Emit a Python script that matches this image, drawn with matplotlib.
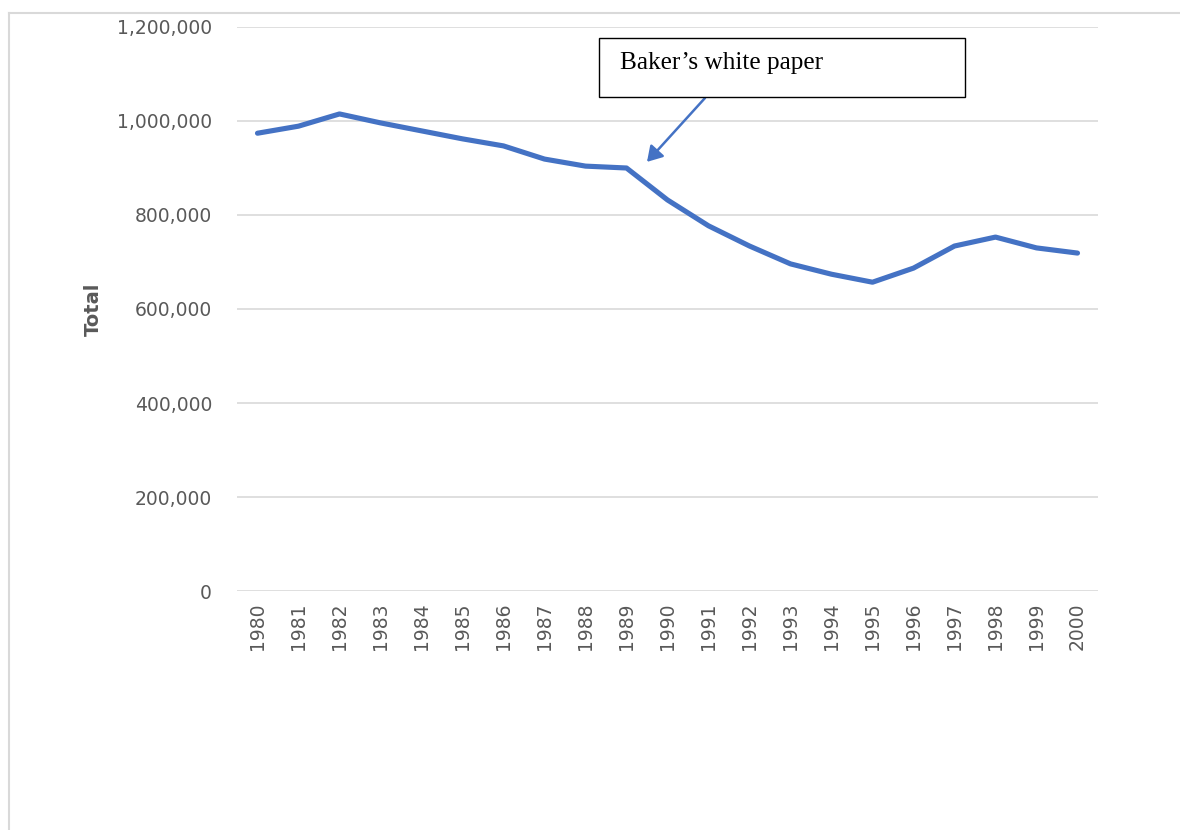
import matplotlib
matplotlib.use("Agg")
import matplotlib.pyplot as plt
from matplotlib.lines import Line2D
from matplotlib.ticker import FuncFormatter, MultipleLocator

# Annual totals, 1980-2000
years = [str(y) for y in range(1980, 2001)]
totals = [974000, 989000, 1015000, 996000, 979000, 962000, 947000, 919000,
          904000, 900000, 832000, 777000, 734000, 696000, 674000, 657000,
          687000, 734000, 753000, 730000, 719000]

annotation_text = "Baker\u2019s white paper"
annotation_year = "1989"

LINE_BLUE = "#4472C4"
GRID_GREY = "#D9D9D9"
TEXT_GREY = "#595959"

fig = plt.figure(figsize=(11.8, 8.3), dpi=100)
fig.patch.set_facecolor("white")

# Light frame around the chart area (top and left edges visible)
fig.add_artist(Line2D([8.5 / 1180, 1.0], [1 - 13 / 830, 1 - 13 / 830],
                      transform=fig.transFigure, color=GRID_GREY, lw=1.5))
fig.add_artist(Line2D([8.5 / 1180, 8.5 / 1180], [0.0, 1 - 13 / 830],
                      transform=fig.transFigure, color=GRID_GREY, lw=1.5))

ax = fig.add_axes([237 / 1180, 1 - 591 / 830, (1098 - 237) / 1180, (591 - 27) / 830])

x = list(range(len(years)))
ax.plot(x, totals, color=LINE_BLUE, lw=3.7, solid_joinstyle="round",
        solid_capstyle="round", zorder=3)

ax.set_xlim(-0.5, len(years) - 0.5)
ax.set_ylim(0, 1200000)
ax.yaxis.set_major_locator(MultipleLocator(200000))
ax.yaxis.set_major_formatter(FuncFormatter(lambda v, p: f"{int(v):,}"))
ax.set_xticks(x)
ax.set_xticklabels(years, rotation=90)

ax.grid(axis="y", color=GRID_GREY, lw=1.2)
ax.set_axisbelow(True)
for s in ax.spines.values():
    s.set_visible(False)
ax.tick_params(axis="both", length=0, colors=TEXT_GREY, labelsize=13.5)
ax.tick_params(axis="y", pad=18)
ax.tick_params(axis="x", pad=8)

ax.set_ylabel("Total", fontsize=14, fontweight="bold", color=TEXT_GREY)
ax.yaxis.set_label_coords(-0.156, 0.5)

# Callout box with arrow pointing at the 1989 turning point
idx = years.index(annotation_year)
ax.annotate(
    "", xy=(idx + 0.5, 913000), xycoords="data",
    xytext=(705 / 1180, 1 - 98 / 830), textcoords="figure fraction",
    arrowprops=dict(arrowstyle="-|>,head_length=0.9,head_width=0.55",
                    color=LINE_BLUE, lw=1.8, shrinkA=0, shrinkB=0),
    zorder=5,
)
box = plt.Rectangle((599 / 1180, 1 - 97 / 830), (965 - 599) / 1180, (97 - 38) / 830,
                    transform=fig.transFigure, facecolor="white",
                    edgecolor="black", lw=1.0, zorder=6)
fig.add_artist(box)
fig.text(620 / 1180, 1 - 63 / 830, annotation_text, family="Liberation Serif",
         fontsize=18.2, color="black", ha="left", va="center", zorder=7)

fig.savefig("out.png", dpi=100, facecolor="white")
